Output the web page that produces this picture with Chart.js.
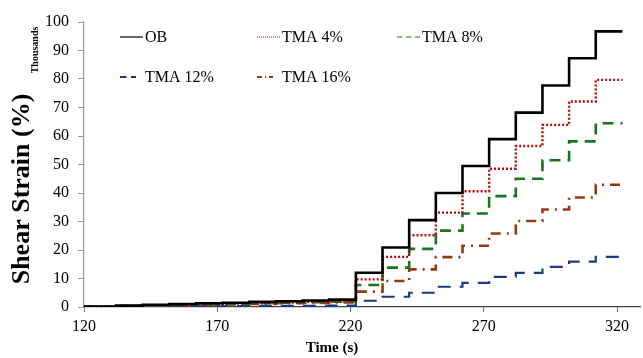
<!DOCTYPE html>
<html>
<head>
<meta charset="utf-8">
<script src="https://cdn.jsdelivr.net/npm/chart.js@4.4.1/dist/chart.umd.min.js"></script>
<style>
  body { margin: 0; background: #fff; }
  #wrap { width: 643px; height: 358px; }
</style>
</head>
<body>
<div id="wrap"><canvas id="shearChart"></canvas></div>
<script>
// time (s) at which each level starts
var times = [120, 132, 142, 152, 162, 172, 182, 192, 202, 212, 222, 232, 242, 252, 262, 272, 282, 292, 302, 312, 322];

// shear strain, thousands of %
var ob     = [0.2, 0.5, 0.8, 1.0, 1.3, 1.5, 1.8, 2.0, 2.3, 2.6, 12.0, 20.9, 30.5, 40.0, 49.5, 58.9, 68.2, 77.7, 87.3, 96.7, 96.7];
var tma4   = [0.1, 0.4, 0.6, 0.8, 1.0, 1.2, 1.4, 1.6, 1.8, 2.0, 9.7, 17.6, 25.2, 33.1, 40.6, 48.5, 56.5, 63.9, 72.1, 79.7, 79.7];
var tma8   = [0.1, 0.3, 0.5, 0.7, 0.9, 1.1, 1.3, 1.5, 1.7, 1.9, 7.7, 13.8, 20.4, 26.8, 32.8, 38.9, 45.0, 51.5, 58.1, 64.5, 64.5];
var tma12  = [0.0, 0.1, 0.1, 0.2, 0.2, 0.3, 0.3, 0.4, 0.4, 0.5, 2.2, 3.6, 5.0, 7.1, 8.5, 10.6, 12.0, 14.1, 15.9, 17.6, 17.6];
var tma16  = [0.1, 0.3, 0.4, 0.6, 0.8, 0.9, 1.1, 1.3, 1.4, 1.6, 5.4, 9.1, 13.2, 17.5, 21.5, 25.8, 30.2, 34.2, 38.4, 42.9, 42.9];

var seriesNames = ['OB', 'TMA 4%', 'TMA 8%', 'TMA 12%', 'TMA 16%'];

var xTicks = [120, 170, 220, 270, 320];
var yTicks = [0, 10, 20, 30, 40, 50, 60, 70, 80, 90, 100];

function pts(vals) {
    var out = [];
    for (var i = 0; i < times.length; i++) {
        out.push({ x: times[i], y: vals[i] });
    }
    return out;
}

var serif = '"Liberation Serif", "Times New Roman", serif';
Chart.defaults.font.family = serif;
Chart.defaults.color = '#000';

// axis titles + legend laid out like the original
var decor = {
    id: 'decor',
    afterDraw: function (chart) {
        var ctx = chart.ctx;
        ctx.save();
        ctx.fillStyle = '#000';
        ctx.textAlign = 'center';
        ctx.textBaseline = 'middle';

        ctx.save();
        ctx.translate(22, 189);
        ctx.rotate(-Math.PI / 2);
        ctx.font = 'bold 26px ' + serif;
        ctx.fillText('Shear Strain (%)', 0, 0);
        ctx.restore();

        ctx.save();
        ctx.translate(35, 50);
        ctx.rotate(-Math.PI / 2);
        ctx.font = 'bold 10px ' + serif;
        ctx.fillText('Thousands', 0, 0);
        ctx.restore();

        ctx.font = 'bold 15px ' + serif;
        ctx.fillText('Time (s)', 332, 348);

        // legend
        var colX = [120, 257, 397];
        var rowY = [37, 77];
        ctx.textAlign = 'left';
        ctx.font = '16px ' + serif;
        chart.data.datasets.forEach(function (ds, i) {
            var row = i < 3 ? 0 : 1;
            var col = i < 3 ? i : i - 3;
            var x = colX[col], y = rowY[row];
            var len = row === 0 ? 23 : 16;
            ctx.save();
            ctx.strokeStyle = ds.borderColor;
            ctx.lineWidth = row === 0 ? 1.2 : 2;
            ctx.setLineDash(ds.borderDash ? ds.borderDash.map(function (d) { return d * 0.5; }) : []);
            ctx.beginPath();
            ctx.moveTo(x, y);
            ctx.lineTo(x + len, y);
            ctx.stroke();
            ctx.restore();
            ctx.fillText(ds.label, x + 25, y + 1);
        });
        ctx.restore();
    }
};

var ctx_line = document.getElementById('shearChart');

var MyLineChart = new Chart(ctx_line, {
    type: 'line',
    data: {
        datasets: [{
            label: seriesNames[0],
            data: pts(ob),
            borderColor: '#000000',
            borderWidth: 2.6
        }, {
            label: seriesNames[1],
            data: pts(tma4),
            borderColor: '#b00c0c',
            borderWidth: 2.4,
            borderDash: [2, 2]
        }, {
            label: seriesNames[2],
            data: pts(tma8),
            borderColor: '#17761b',
            borderWidth: 2.6,
            borderDash: [11, 7]
        }, {
            label: seriesNames[3],
            data: pts(tma12),
            borderColor: '#1d3a7e',
            borderWidth: 2.2,
            borderDash: [13, 9]
        }, {
            label: seriesNames[4],
            data: pts(tma16),
            borderColor: '#96380f',
            borderWidth: 2.6,
            borderDash: [10, 6, 2, 6]
        }]
    },
    options: {
        responsive: true,
        maintainAspectRatio: false,
        animation: false,
        stepped: 'before',
        elements: {
            point: { radius: 0 },
            line: { tension: 0, stepped: 'before', borderCapStyle: 'butt', fill: false }
        },
        layout: { padding: { top: 22, right: 3, left: 0, bottom: 0 } },
        plugins: {
            legend: { display: false },
            tooltip: { enabled: false }
        },
        scales: {
            x: {
                type: 'linear',
                min: 120,
                max: 328.6,
                afterBuildTicks: function (scale) {
                    scale.ticks = xTicks.map(function (v) { return { value: v }; });
                },
                afterFit: function (scale) { scale.height = 51; },
                grid: { drawOnChartArea: false, drawTicks: true, tickLength: 5, color: '#777' },
                border: { display: true, color: '#444', width: 1.2 },
                ticks: { font: { size: 16 }, padding: 5, maxRotation: 0, color: '#000' }
            },
            y: {
                min: 0,
                max: 100,
                afterBuildTicks: function (scale) {
                    scale.ticks = yTicks.map(function (v) { return { value: v }; });
                },
                afterFit: function (scale) { scale.width = 84; },
                grid: { drawOnChartArea: false, drawTicks: true, tickLength: 6, color: '#999' },
                border: { display: true, color: '#999', width: 1.2 },
                ticks: { font: { size: 16 }, padding: 9, color: '#000' }
            }
        }
    },
    plugins: [decor]
});
</script>
</body>
</html>
